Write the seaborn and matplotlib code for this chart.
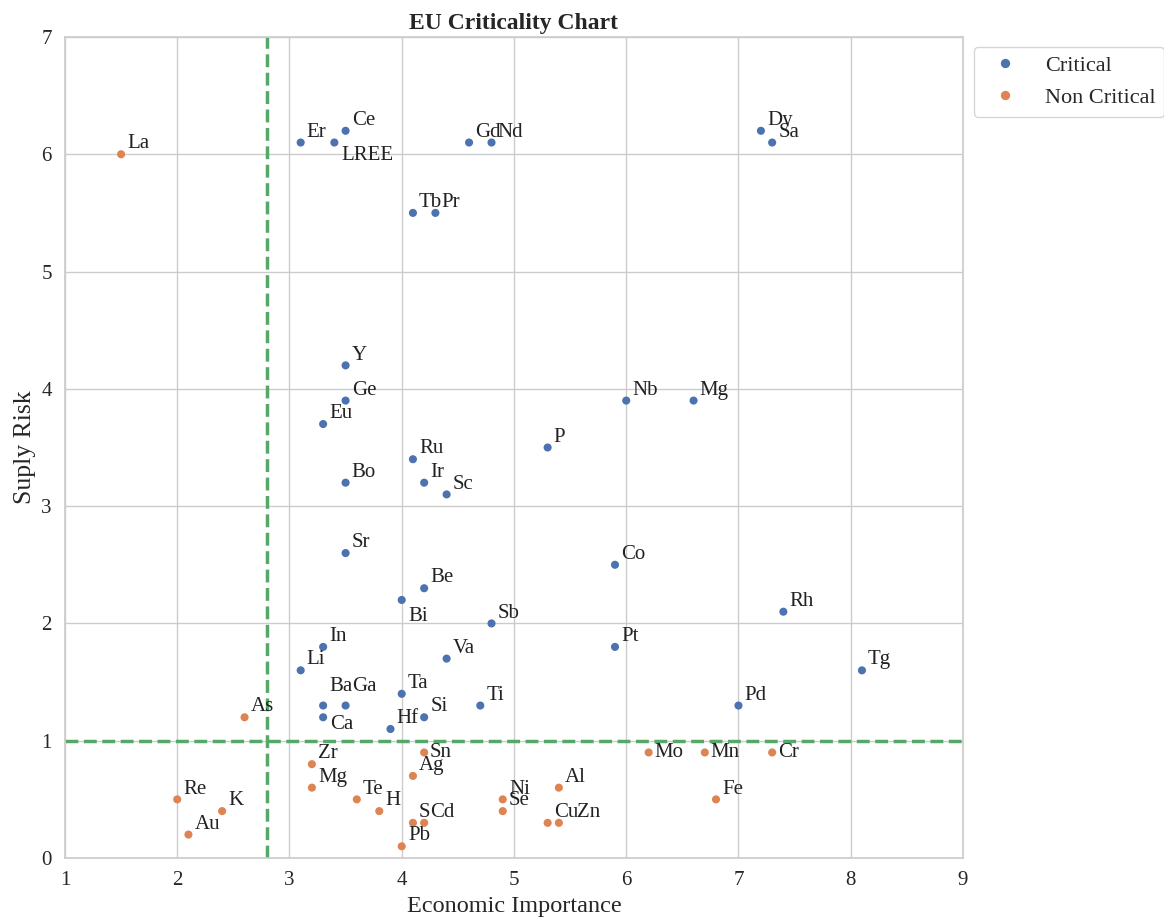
import pandas as pd
import matplotlib
matplotlib.use("Agg")
import matplotlib.pyplot as plt
import seaborn as sns

# Critical raw materials
crit_names = ["Er", "LREE", "Ce", "Gd", "Nd", "Tb", "Pr", "Dy", "Sa", "Y", "Ge", "Eu",
              "Nb", "Mg", "P", "Ru", "Ir", "Sc", "Bo", "Sr", "Co", "Be", "Bi", "Sb",
              "Rh", "In", "Pt", "Va", "Li", "Tg", "Ta", "Ba", "Ga", "Ti", "Pd", "Ca",
              "Si", "Hf"]
crit_x = [3.1, 3.4, 3.5, 4.6, 4.8, 4.1, 4.3, 7.2, 7.3, 3.5, 3.5, 3.3,
          6.0, 6.6, 5.3, 4.1, 4.2, 4.4, 3.5, 3.5, 5.9, 4.2, 4.0, 4.8,
          7.4, 3.3, 5.9, 4.4, 3.1, 8.1, 4.0, 3.3, 3.5, 4.7, 7.0, 3.3,
          4.2, 3.9]
crit_y = [6.1, 6.1, 6.2, 6.1, 6.1, 5.5, 5.5, 6.2, 6.1, 4.2, 3.9, 3.7,
          3.9, 3.9, 3.5, 3.4, 3.2, 3.1, 3.2, 2.6, 2.5, 2.3, 2.2, 2.0,
          2.1, 1.8, 1.8, 1.7, 1.6, 1.6, 1.4, 1.3, 1.3, 1.3, 1.3, 1.2,
          1.2, 1.1]

# Non critical raw materials
non_names = ["La", "As", "Zr", "Sn", "Mo", "Mn", "Cr", "Ag", "Mg", "Al", "Re", "Te",
             "Ni", "Fe", "K", "H", "Se", "S", "Cd", "Cu", "Zn", "Au", "Pb"]
non_x = [1.5, 2.6, 3.2, 4.2, 6.2, 6.7, 7.3, 4.1, 3.2, 5.4, 2.0, 3.6,
         4.9, 6.8, 2.4, 3.8, 4.9, 4.1, 4.2, 5.3, 5.4, 2.1, 4.0]
non_y = [6.0, 1.2, 0.8, 0.9, 0.9, 0.9, 0.9, 0.7, 0.6, 0.6, 0.5, 0.5,
         0.5, 0.5, 0.4, 0.4, 0.4, 0.3, 0.3, 0.3, 0.3, 0.2, 0.1]

# thresholds
ei_threshold = 2.8
sr_threshold = 1.0

df = pd.concat([
    pd.DataFrame({"name": crit_names, "EI": crit_x, "SR": crit_y, "type": "Critical"}),
    pd.DataFrame({"name": non_names, "EI": non_x, "SR": non_y, "type": "Non Critical"}),
], ignore_index=True)

sns.set_theme(style="whitegrid")
plt.rcParams["font.family"] = ["Liberation Serif", "DejaVu Serif"]

fig, ax = plt.subplots(figsize=(11.64, 9.24), dpi=100)
fig.subplots_adjust(left=0.0558, right=0.8273, top=0.96, bottom=0.0714)

sns.scatterplot(data=df, x="EI", y="SR", hue="type", hue_order=["Critical", "Non Critical"],
                s=34, linewidth=0, ax=ax, zorder=3)

# label placement tweaks (dx, dy, va)
special = {
    ("Critical", "LREE"): (0.06, -0.03, "top"),
    ("Critical", "Bi"): (0.06, -0.06, "top"),
    ("Critical", "Ca"): (0.06, 0.02, "top"),
    ("Critical", "Ba"): (0.06, 0.12, "baseline"),
    ("Critical", "Ga"): (0.06, 0.12, "baseline"),
    ("Non Critical", "Sn"): (0.05, 0.0, "center"),
    ("Non Critical", "Mo"): (0.05, 0.0, "center"),
    ("Non Critical", "Mn"): (0.05, 0.0, "center"),
    ("Non Critical", "Cr"): (0.05, 0.0, "center"),
    ("Non Critical", "Zn"): (0.16, 0.05, "baseline"),
}
for _, r in df.iterrows():
    dx, dy, va = special.get((r["type"], r["name"]), (0.055, 0.05, "baseline"))
    ax.text(r["EI"] + dx, r["SR"] + dy, r["name"], fontsize=15, va=va, ha="left",
            color="#222222", zorder=4)

ax.axvline(ei_threshold, color="#55a868", linestyle="--", linewidth=2.5, zorder=2)
ax.axhline(sr_threshold, color="#55a868", linestyle="--", linewidth=2.5, zorder=2)

ax.set_xlim(1, 9)
ax.set_ylim(0, 7)
ax.set_xticks(range(1, 10))
ax.set_yticks(range(0, 8))
ax.tick_params(labelsize=15)
ax.set_title("EU Criticality Chart", fontsize=17, fontweight="bold")
ax.set_xlabel("Economic Importance", fontsize=17.5)
ax.set_ylabel("Suply Risk", fontsize=18.5)

ax.legend(loc="upper left", bbox_to_anchor=(1.012, 0.988), borderaxespad=0,
          fontsize=16, markerscale=1.15)

plt.savefig("out.png", dpi=100)
